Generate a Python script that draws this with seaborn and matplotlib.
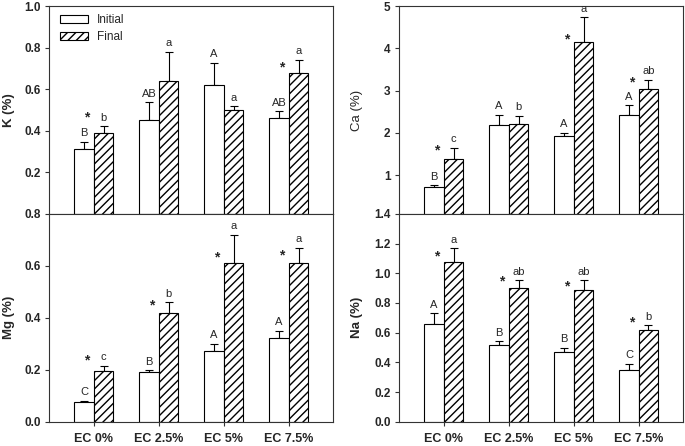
import numpy as np
import pandas as pd
import matplotlib
matplotlib.use("Agg")
import matplotlib.pyplot as plt
from matplotlib.patches import Patch
import seaborn as sns

groups = ["EC 0%", "EC 2.5%", "EC 5%", "EC 7.5%"]

# K (%)
k_initial = [0.31, 0.45, 0.62, 0.46]
k_initial_err = [0.036, 0.086, 0.108, 0.035]
k_final = [0.39, 0.64, 0.50, 0.68]
k_final_err = [0.032, 0.139, 0.019, 0.061]
k_letters_initial = ["B", "AB", "A", "AB"]
k_letters_final = ["b", "a", "a", "a"]
k_stars = [0.487, None, None, 0.729]

# Ca (%)
ca_initial = [0.71, 2.18, 1.92, 2.43]
ca_initial_err = [0.047, 0.25, 0.08, 0.22]
ca_final = [1.39, 2.22, 4.14, 3.03]
ca_final_err = [0.255, 0.18, 0.60, 0.23]
ca_letters_initial = ["B", "A", "A", "A"]
ca_letters_final = ["c", "b", "a", "ab"]
ca_stars = [1.69, None, 4.33, 3.31]

# Mg (%)
mg_initial = [0.076, 0.19, 0.271, 0.321]
mg_initial_err = [0.005, 0.009, 0.029, 0.029]
mg_final = [0.195, 0.419, 0.612, 0.609]
mg_final_err = [0.02, 0.04, 0.108, 0.06]
mg_letters_initial = ["C", "B", "A", "A"]
mg_letters_final = ["c", "b", "a", "a"]
mg_stars = [0.254, 0.468, 0.65, 0.658]

# Na (%)
na_initial = [0.66, 0.518, 0.468, 0.349]
na_initial_err = [0.072, 0.025, 0.03, 0.041]
na_final = [1.076, 0.90, 0.885, 0.62]
na_final_err = [0.091, 0.053, 0.068, 0.03]
na_letters_initial = ["A", "B", "B", "C"]
na_letters_final = ["a", "ab", "ab", "b"]
na_stars = [1.144, 0.975, 0.946, 0.70]

sns.set_style("ticks")
plt.rcParams["font.family"] = ["Liberation Sans", "DejaVu Sans"]
plt.rcParams["hatch.linewidth"] = 1.0

fig, axes = plt.subplots(2, 2, figsize=(6.85, 4.46), dpi=100)
fig.subplots_adjust(left=0.0715, right=0.997, top=0.9865, bottom=0.0545,
                    hspace=0, wspace=0.232)

line_col = "#333333"


def draw_panel(ax, ylabel, initial, initial_err, final, final_err,
               letters_i, letters_f, stars, ylim, yticks, yfmt, bottom,
               label_x, label_weight="bold"):
    df = pd.DataFrame({
        "EC": groups * 2,
        "Time": ["Initial"] * 4 + ["Final"] * 4,
        "value": initial + final,
    })
    sns.barplot(data=df, x="EC", y="value", hue="Time",
                hue_order=["Initial", "Final"], palette=["white", "white"],
                saturation=1, edgecolor="black", linewidth=0.8, width=0.6,
                errorbar=None, legend=False, ax=ax, zorder=2)
    for p in ax.containers[1]:
        p.set_hatch("////")

    for cont, err, letters in zip(ax.containers, [initial_err, final_err],
                                  [letters_i, letters_f]):
        xs = [p.get_x() + p.get_width() / 2 for p in cont]
        hs = [p.get_height() for p in cont]
        ax.errorbar(xs, hs, yerr=[np.zeros(len(err)), err], fmt="none",
                    ecolor="black", elinewidth=0.8, capsize=3,
                    capthick=0.8, zorder=1)
        for x, h, e, t in zip(xs, hs, err, letters):
            ax.annotate(t, (x, h + e), xytext=(0, 2.5),
                        textcoords="offset points", ha="center",
                        va="bottom", fontsize=8)

    for i, s in enumerate(stars):
        if s is not None:
            ax.annotate("*", (i, s), xytext=(-5, -3.5),
                        textcoords="offset points", ha="center",
                        va="center", fontsize=10, fontweight="bold")

    ax.set_xlim(-0.69, 3.68)
    ax.set_ylim(*ylim)
    ax.set_yticks(yticks, labels=[yfmt.format(t) for t in yticks],
                  fontweight="bold", fontsize=8.5)
    ax.set_xlabel("")
    ax.set_ylabel(ylabel, fontweight=label_weight, fontsize=9.5)
    ax.yaxis.set_label_coords(label_x, 0.5)
    if bottom:
        ax.set_xticks(range(4), labels=groups, fontweight="bold", fontsize=9)
        ax.tick_params(axis="x", direction="out", length=3, width=0.8,
                       pad=5, color=line_col)
    else:
        ax.tick_params(axis="x", length=0, labelbottom=False)
    ax.tick_params(axis="y", direction="out", length=3, width=0.8, pad=3,
                   color=line_col)
    for sp in ax.spines.values():
        sp.set_visible(True)
        sp.set_color(line_col)
        sp.set_linewidth(0.8)


draw_panel(axes[0, 0], "K (%)", k_initial, k_initial_err, k_final,
           k_final_err, k_letters_initial, k_letters_final, k_stars,
           (0, 1.0), [0.2, 0.4, 0.6, 0.8, 1.0], "{:.1f}", False, -0.12)
draw_panel(axes[0, 1], "Ca (%)", ca_initial, ca_initial_err, ca_final,
           ca_final_err, ca_letters_initial, ca_letters_final, ca_stars,
           (0.085, 5), [1, 2, 3, 4, 5], "{:d}", False, -0.127,
           label_weight="normal")
draw_panel(axes[1, 0], "Mg (%)", mg_initial, mg_initial_err, mg_final,
           mg_final_err, mg_letters_initial, mg_letters_final, mg_stars,
           (0, 0.8), [0.0, 0.2, 0.4, 0.6, 0.8], "{:.1f}", True, -0.12)
draw_panel(axes[1, 1], "Na (%)", na_initial, na_initial_err, na_final,
           na_final_err, na_letters_initial, na_letters_final, na_stars,
           (0, 1.4), [0.0, 0.2, 0.4, 0.6, 0.8, 1.0, 1.2, 1.4], "{:.1f}",
           True, -0.125)

handles = [
    Patch(facecolor="white", edgecolor="black", linewidth=0.8,
          label="Initial"),
    Patch(facecolor="white", edgecolor="black", linewidth=0.8,
          hatch="////", label="Final"),
]
axes[0, 0].legend(handles=handles, loc="upper left", frameon=False,
                  fontsize=8.5, handlelength=2.4, handleheight=0.65,
                  labelspacing=0.4, handletextpad=0.7, borderaxespad=0.3,
                  bbox_to_anchor=(0.01, 1.0))

fig.savefig("out.png", dpi=100)
